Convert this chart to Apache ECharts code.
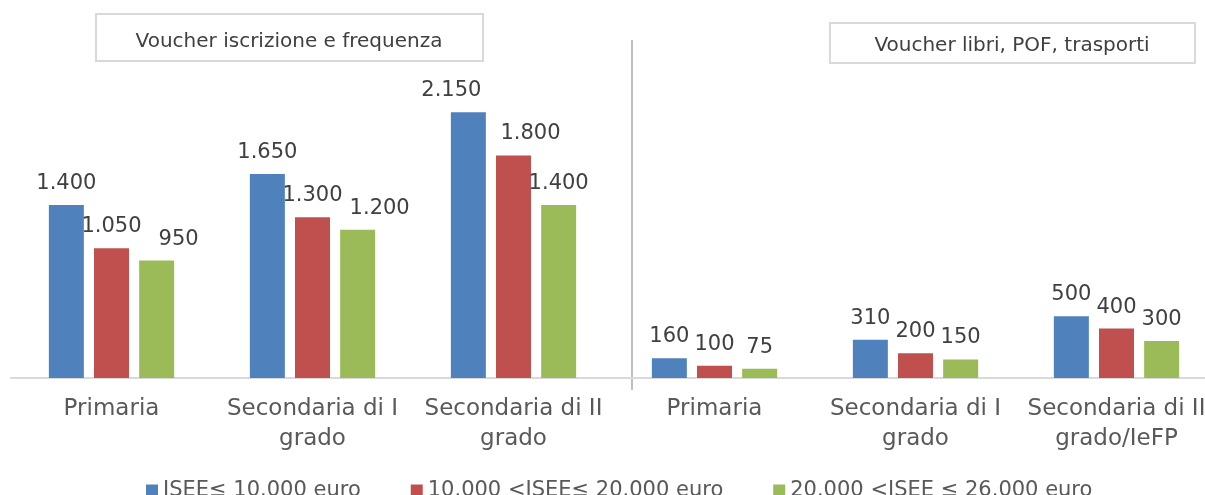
<!DOCTYPE html>
<html>
<head>
<meta charset="utf-8">
<script src="https://cdn.jsdelivr.net/npm/echarts@6/dist/echarts.min.js"></script>
<style>
  html, body { margin: 0; padding: 0; background: #fff; }
  #chart { width: 1205px; height: 495px; }
</style>
</head>
<body>
<div id="chart"></div>
<script>
var categories = ['Primaria', 'Secondaria di I\ngrado', 'Secondaria di II\ngrado',
  'Primaria', 'Secondaria di I\ngrado', 'Secondaria di II\ngrado/IeFP']
var seriesNames = ['ISEE≤ 10.000 euro', '10.000 <ISEE≤ 20.000 euro', '20.000 <ISEE ≤ 26.000 euro']
var low = [1400, 1650, 2150, 160, 310, 500]
var mid = [1050, 1300, 1800, 100, 200, 400]
var high = [950, 1200, 1400, 75, 150, 300]
var panelTitles = ['Voucher iscrizione e frequenza', 'Voucher libri, POF, trasporti']

var font = 'DejaVu Sans'
var colors = ['#4F81BD', '#C0504D', '#9BBB59']
// a few labels were nudged sideways in the original to avoid overlap
var labelNudge = [
  [0, 0, -17, 0, 0, 0],
  [0, 0, 17, 0, 0, 0],
  [22, 22, 0, 0, 0, 0]
]

function fmt(v) {
  return String(v).replace(/\B(?=(\d{3})+(?!\d))/g, '.')
}

function bar(idx, data) {
  return {
    name: seriesNames[idx],
    type: 'bar',
    data: data.map(function (v, i) {
      return { value: v, label: { offset: [labelNudge[idx][i], 0] } }
    }),
    barWidth: 35,
    barGap: '29%',
    itemStyle: { color: colors[idx] },
    label: {
      show: true,
      position: 'top',
      distance: 11,
      color: '#404040',
      fontFamily: font,
      fontSize: 21,
      formatter: function (p) { return fmt(p.value) }
    }
  }
}

var chart = echarts.init(document.getElementById('chart'))
chart.setOption({
  animation: false,
  color: colors,
  grid: { left: 11, width: 1206, top: 69, bottom: 117, outerBoundsMode: 'none' },
  legend: {
    left: 141,
    top: 475,
    icon: 'rect',
    itemWidth: 12,
    itemHeight: 12,
    itemGap: 50,
    itemStyle: { borderWidth: 0 },
    textStyle: { color: '#595959', fontFamily: font, fontSize: 21 },
    data: seriesNames
  },
  xAxis: {
    type: 'category',
    data: categories,
    axisTick: { show: false },
    axisLine: { lineStyle: { color: '#D9D9D9', width: 2 } },
    axisLabel: {
      interval: 0,
      margin: 16,
      color: '#595959',
      fontFamily: font,
      fontSize: 23,
      lineHeight: 30
    }
  },
  yAxis: {
    type: 'value',
    min: 0,
    max: 2500,
    show: false,
    splitLine: { show: false }
  },
  graphic: [
    {
      type: 'line',
      shape: { x1: 632, y1: 40, x2: 632, y2: 390 },
      style: { stroke: '#BFBFBF', lineWidth: 2 }
    },
    {
      type: 'rect',
      shape: { x: 96, y: 14, width: 387, height: 47 },
      style: { fill: '#fff', stroke: '#D9D9D9', lineWidth: 2 }
    },
    {
      type: 'text',
      x: 289, y: 42,
      style: {
        text: panelTitles[0], fill: '#404040', font: '20px ' + font,
        align: 'center', verticalAlign: 'middle'
      }
    },
    {
      type: 'rect',
      shape: { x: 830, y: 23, width: 365, height: 40 },
      style: { fill: '#fff', stroke: '#D9D9D9', lineWidth: 2 }
    },
    {
      type: 'text',
      x: 1012, y: 46,
      style: {
        text: panelTitles[1], fill: '#404040', font: '20px ' + font,
        align: 'center', verticalAlign: 'middle'
      }
    }
  ],
  series: [bar(0, low), bar(1, mid), bar(2, high)]
})
</script>
</body>
</html>
